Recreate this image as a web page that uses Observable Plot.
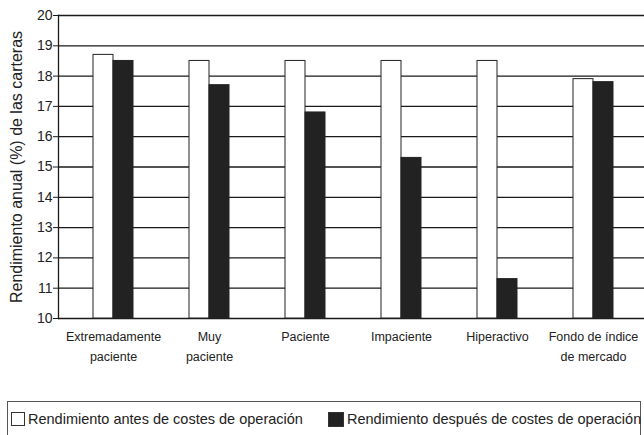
<!DOCTYPE html>
<html>
<head>
<meta charset="utf-8">
<script src="https://cdn.jsdelivr.net/npm/d3@7"></script>
<script src="https://cdn.jsdelivr.net/npm/@observablehq/plot@0.6"></script>
<style>
  html, body { margin: 0; padding: 0; background: #fff; }
  #wrap { position: relative; width: 644px; height: 435px; overflow: hidden; font-family: "Liberation Sans", Arial, sans-serif; color: #222; }
  #legend { position: absolute; left: 7px; top: 401px; width: 634px; height: 40px; border: 1.5px solid #555; box-sizing: border-box; }
  .sw { position: absolute; top: 10px; width: 14px; height: 14px; box-sizing: border-box; border: 1px solid #333; }
  .lt { position: absolute; top: 9.5px; font-size: 14.5px; line-height: 14.5px; white-space: nowrap; color: #222; }
</style>
</head>
<body>
<div id="wrap">
  <div id="chart"></div>
  <div id="legend"></div>
</div>
<script>
const categories = ["Extremadamente\npaciente", "Muy\npaciente", "Paciente", "Impaciente", "Hiperactivo", "Fondo de índice\nde mercado"];
const before = [18.7, 18.5, 18.5, 18.5, 18.5, 17.9];
const after = [18.5, 17.7, 16.8, 15.3, 11.3, 17.8];
const seriesNames = ["Rendimiento antes de costes de operación", "Rendimiento después de costes de operación"];
const seriesColors = ["#ffffff", "#222222"];
const yTicks = [10, 11, 12, 13, 14, 15, 16, 17, 18, 19, 20];
const yDomain = [10, 20];
const yLabel = "Rendimiento anual (%) de las carteras";

const data = categories.map((c, i) => ({cat: c, before: before[i], after: after[i]}));

const chart = Plot.plot({
  width: 644,
  height: 400,
  marginTop: 15,
  marginBottom: 82,
  marginLeft: 58,
  marginRight: 0,
  style: {fontFamily: '"Liberation Sans", Arial, sans-serif', color: "#222", background: "#fff"},
  x: {domain: categories, range: [64, 641], padding: 0},
  y: {domain: yDomain},
  marks: [
    Plot.gridY(yTicks, {stroke: "#1a1a1a", strokeOpacity: 1, strokeWidth: 1.3}),
    Plot.frame({anchor: "left", stroke: "#1a1a1a", strokeWidth: 1.3}),
    Plot.barY(data, {x: "cat", y1: () => yDomain[0], y2: "before", fill: seriesColors[0], stroke: "#222", strokeWidth: 1, insetLeft: 28, insetRight: 48}),
    Plot.barY(data, {x: "cat", y1: () => yDomain[0], y2: "after", fill: seriesColors[1], stroke: "#222", strokeWidth: 1, insetLeft: 48, insetRight: 28}),
    Plot.axisY({ticks: yTicks, tickSize: 5, tickPadding: 1, fontSize: 14, stroke: "#1a1a1a", fill: "#222",
      label: yLabel, labelAnchor: "center", labelOffset: 48, labelArrow: "none"}),
    Plot.axisX({tickSize: 0, tickPadding: 9, fontSize: 12.5, lineHeight: 1.55, fill: "#222", label: null})
  ]
});
document.getElementById("chart").appendChild(chart);
d3.select(chart).selectAll("[aria-label='y-axis label'] text").attr("font-size", 16);

const legend = document.getElementById("legend");
const swX = [3, 320];
const txX = [20, 339];
seriesNames.forEach((name, i) => {
  const sw = document.createElement("div");
  sw.className = "sw";
  sw.style.left = swX[i] + "px";
  sw.style.background = seriesColors[i];
  if (i === 1) { sw.style.width = "16px"; sw.style.height = "15px"; }
  legend.appendChild(sw);
  const t = document.createElement("div");
  t.className = "lt";
  t.style.left = txX[i] + "px";
  t.textContent = name;
  legend.appendChild(t);
});
</script>
</body>
</html>
